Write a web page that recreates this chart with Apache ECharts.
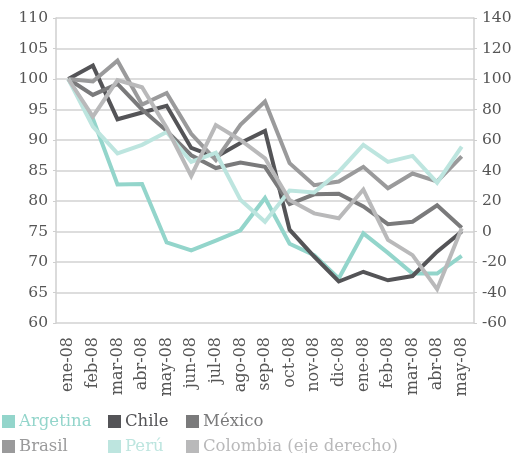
<!DOCTYPE html>
<html>
<head>
<meta charset="utf-8">
<script src="https://cdn.jsdelivr.net/npm/echarts@6/dist/echarts.min.js"></script>
<style>html,body{margin:0;padding:0;background:#fff;}#c{width:516px;height:453px;}</style>
</head>
<body>
<div id="c"></div>
<script>
const categories = ['ene-08','feb-08','mar-08','abr-08','may-08','jun-08','jul-08','ago-08','sep-08','oct-08','nov-08','dic-08','ene-08','feb-08','mar-08','abr-08','may-08'];
const leftTicks = {min: 60, max: 110, interval: 5};
const rightTicks = {min: -60, max: 140, interval: 20};
const argentina = [100, 93.5, 82.7, 82.8, 73.2, 71.9, 73.5, 75.2, 80.5, 73.0, 71.1, 67.3, 74.7, 71.5, 68.1, 68.1, 71.0];
const chile     = [100, 102.2, 93.4, 94.5, 95.6, 88.7, 87.2, 89.5, 91.5, 75.3, 70.9, 66.8, 68.4, 67.0, 67.7, 71.7, 75.0];
const mexico    = [100, 97.4, 99.2, 95.0, 91.5, 87.5, 85.4, 86.3, 85.6, 79.5, 81.1, 81.2, 79.1, 76.2, 76.6, 79.3, 75.6];
const brasil    = [100, 99.6, 103.0, 95.8, 97.7, 91.0, 86.7, 92.5, 96.3, 86.2, 82.6, 83.2, 85.6, 82.1, 84.5, 83.2, 87.3];
const peru      = [100, 92.2, 87.8, 89.2, 91.3, 86.4, 87.9, 80.2, 76.6, 81.7, 81.4, 84.8, 89.2, 86.4, 87.4, 83.0, 88.9];
const colombia  = [100, 75.3, 99.3, 94.6, 68, 36.4, 69.8, 60, 48, 20.7, 11.9, 8.7, 27.5, -5.5, -15.5, -37.8, 2.1];

const seriesDefs = [
  {name: 'Argetina', data: argentina, color: '#93d5cb', axis: 0},
  {name: 'Chile', data: chile, color: '#545457', axis: 0},
  {name: 'México', data: mexico, color: '#7a7a7b', axis: 0},
  {name: 'Brasil', data: brasil, color: '#9a9a9b', axis: 0},
  {name: 'Perú', data: peru, color: '#bde5df', axis: 0},
  {name: 'Colombia (eje derecho)', data: colombia, color: '#b9b9ba', axis: 1}
];
const legendPos = [[2,413],[108,413],[186,413],[2,438],[108,438],[186,438]];
const FONT = "'DejaVu Serif', 'Liberation Serif', serif";

const chart = echarts.init(document.getElementById('c'), null, {renderer: 'canvas'});
chart.setOption({
  animation: false,
  backgroundColor: '#fff',
  grid: {left: 56, right: 42, top: 18, bottom: 130, containLabel: false},
  legend: seriesDefs.map((s, i) => ({
    left: legendPos[i][0], top: legendPos[i][1], padding: 0,
    icon: 'rect', itemWidth: 13, itemHeight: 13, itemGap: 0,
    selectedMode: false,
    data: [{name: s.name, textStyle: {color: s.color}}],
    textStyle: {fontFamily: FONT, fontSize: 16.5, color: s.color, padding: [0,0,0,-1]}
  })),
  xAxis: {
    type: 'category', data: categories, boundaryGap: true,
    axisLine: {show: false}, axisTick: {show: false},
    axisLabel: {rotate: 90, interval: 0, margin: 14, fontFamily: FONT, fontSize: 16, color: '#555'},
    splitLine: {show: false}
  },
  yAxis: [
    {type: 'value', position: 'left', min: leftTicks.min, max: leftTicks.max, interval: leftTicks.interval,
     axisLine: {show: true, lineStyle: {color: '#cfcfcf', width: 1.5}},
     axisTick: {show: true, length: 3, lineStyle: {color: '#cfcfcf'}},
     axisLabel: {margin: 8, fontFamily: FONT, fontSize: 15.5, color: '#555'},
     splitLine: {show: true, lineStyle: {color: '#d2d2d2', width: 1.5}}},
    {type: 'value', position: 'right', min: rightTicks.min, max: rightTicks.max, interval: rightTicks.interval,
     axisLine: {show: true, lineStyle: {color: '#cfcfcf', width: 1.5}},
     axisTick: {show: true, length: 3, lineStyle: {color: '#cfcfcf'}},
     axisLabel: {margin: 8, fontFamily: FONT, fontSize: 15.5, color: '#555'},
     splitLine: {show: false}}
  ],
  series: seriesDefs.map(s => ({
    name: s.name, type: 'line', yAxisIndex: s.axis, data: s.data,
    symbol: 'none', color: s.color,
    lineStyle: {color: s.color, width: 4, join: 'miter'}
  }))
});
</script>
</body>
</html>
